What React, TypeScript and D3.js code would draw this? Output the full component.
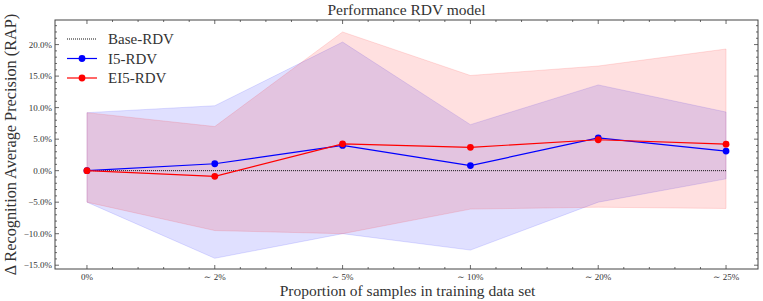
import React, { useEffect, useRef } from 'react'
import * as d3 from 'd3'

// categories along x
const categories = ['0%', '∼ 2%', '∼ 5%', '∼ 10%', '∼ 20%', '∼ 25%']

// mean delta RAP (%)
const baseRdv = [0, 0, 0, 0, 0, 0]
const i5Rdv = [0, 1.1, 4.0, 0.8, 5.2, 3.1]
const ei5Rdv = [0, -0.9, 4.25, 3.7, 4.9, 4.2]

// spread bands (%)
const i5Upper = [9.2, 10.3, 20.4, 7.3, 13.6, 9.3]
const i5Lower = [-5.0, -13.9, -10.0, -12.6, -5.0, -1.3]
const ei5Upper = [9.2, 7.0, 22.0, 15.1, 16.6, 19.3]
const ei5Lower = [-5.0, -9.5, -10.0, -6.1, -5.8, -6.0]

const yTicks = [-15, -10, -5, 0, 5, 10, 15, 20]

const W = 763
const H = 301
const margin = { top: 20, right: 5, bottom: 32, left: 55 }
const font = '"Liberation Serif", "DejaVu Serif", serif'

const App = () => {
    const ref = useRef<SVGSVGElement>(null)

    useEffect(() => {
        const svg = d3.select(ref.current)
        svg.selectAll('*').remove()

        const x = d3.scaleLinear().domain([-0.25, 5.25]).range([margin.left, W - margin.right])
        const y = d3.scaleLinear().domain([-15.6, 23.9]).range([H - margin.bottom, margin.top])
        const idx = categories.map((_, i) => i)

        const area = (lo: number[], hi: number[]) =>
            d3.area<number>().x(i => x(i)).y0(i => y(lo[i])).y1(i => y(hi[i]))(idx) as string
        const line = (v: number[]) => d3.line<number>().x(i => x(i)).y(i => y(v[i]))(idx) as string

        const g = svg.append('g')

        // bands
        g.append('path').attr('d', area(i5Lower, i5Upper))
            .attr('fill', 'rgba(0,0,255,0.12)').attr('stroke', 'rgba(0,0,255,0.12)')
        g.append('path').attr('d', area(ei5Lower, ei5Upper))
            .attr('fill', 'rgba(255,0,0,0.12)').attr('stroke', 'rgba(255,0,0,0.12)')

        // base line
        g.append('path').attr('d', line(baseRdv)).attr('fill', 'none')
            .attr('stroke', '#111').attr('stroke-width', 1).attr('stroke-dasharray', '1,1')

        const series = [
            { v: i5Rdv, c: '#0000ff' },
            { v: ei5Rdv, c: '#ff0000' },
        ]
        series.forEach(s => {
            g.append('path').attr('d', line(s.v)).attr('fill', 'none')
                .attr('stroke', s.c).attr('stroke-width', 1.2)
            g.selectAll(null).data(idx).join('circle')
                .attr('cx', i => x(i)).attr('cy', i => y(s.v[i])).attr('r', 3.4).attr('fill', s.c)
        })

        // frame + ticks
        const axisColor = '#444'
        const x0 = margin.left, x1 = W - margin.right, y0 = margin.top, y1 = H - margin.bottom
        g.append('rect').attr('x', x0).attr('y', y0).attr('width', x1 - x0).attr('height', y1 - y0)
            .attr('fill', 'none').attr('stroke', axisColor).attr('stroke-width', 1)

        const ticks = g.append('g').attr('stroke', axisColor).attr('stroke-width', 0.8)
        const minorX = d3.range(0, 5.01, 0.2).filter(v => Math.abs(v - Math.round(v)) > 0.01)
        idx.forEach(i => {
            ticks.append('line').attr('x1', x(i)).attr('x2', x(i)).attr('y1', y1).attr('y2', y1 - 4)
            ticks.append('line').attr('x1', x(i)).attr('x2', x(i)).attr('y1', y0).attr('y2', y0 + 4)
        })
        minorX.forEach(v => {
            ticks.append('line').attr('x1', x(v)).attr('x2', x(v)).attr('y1', y1).attr('y2', y1 - 2)
            ticks.append('line').attr('x1', x(v)).attr('x2', x(v)).attr('y1', y0).attr('y2', y0 + 2)
        })
        d3.range(-15, 24, 1).forEach(v => {
            const major = v % 5 === 0
            const len = major ? 4 : 2
            ticks.append('line').attr('x1', x0).attr('x2', x0 + len).attr('y1', y(v)).attr('y2', y(v))
            ticks.append('line').attr('x1', x1).attr('x2', x1 - len).attr('y1', y(v)).attr('y2', y(v))
        })

        // tick labels
        const fmt = (v: number) => (v < 0 ? '−' : '') + Math.abs(v).toFixed(1) + '%'
        g.selectAll(null).data(yTicks).join('text')
            .attr('x', x0 - 3).attr('y', v => y(v)).attr('dy', '0.35em')
            .attr('text-anchor', 'end').attr('font-family', font).attr('font-size', 9)
            .attr('fill', '#333').text(v => fmt(v))
        g.selectAll(null).data(idx).join('text')
            .attr('x', i => x(i)).attr('y', y1 + 11)
            .attr('text-anchor', 'middle').attr('font-family', font).attr('font-size', 9)
            .attr('fill', '#333').text(i => categories[i])

        // titles
        g.append('text').attr('x', (x0 + x1) / 2).attr('y', 15).attr('text-anchor', 'middle')
            .attr('font-family', font).attr('font-size', 15.5).attr('fill', '#333')
            .text('Performance RDV model')
        g.append('text').attr('x', (x0 + x1) / 2 + 1).attr('y', 296).attr('text-anchor', 'middle')
            .attr('font-family', font).attr('font-size', 15.5).attr('fill', '#333')
            .text('Proportion of samples in training data set')
        g.append('text').attr('transform', `translate(10,${(y0 + y1) / 2}) rotate(-90)`)
            .attr('text-anchor', 'middle').attr('dy', '0.35em')
            .attr('font-family', font).attr('font-size', 16.3).attr('fill', '#333')
            .text('Δ Recognition Average Precision (RAP)')

        // legend
        const legend = [
            { label: 'Base-RDV', c: '#111', dot: false },
            { label: 'I5-RDV', c: '#0000ff', dot: true },
            { label: 'EI5-RDV', c: '#ff0000', dot: true },
        ]
        legend.forEach((l, k) => {
            const ly = 39 + k * 19.5
            const lg = g.append('g')
            lg.append('line').attr('x1', 67).attr('x2', 97).attr('y1', ly).attr('y2', ly)
                .attr('stroke', l.c).attr('stroke-width', l.dot ? 1.2 : 1)
                .attr('stroke-dasharray', l.dot ? null : '1,1')
            if (l.dot) lg.append('circle').attr('cx', 82).attr('cy', ly).attr('r', 3.4).attr('fill', l.c)
            lg.append('text').attr('x', 108).attr('y', ly).attr('dy', '0.35em')
                .attr('font-family', font).attr('font-size', 15).attr('fill', '#333').text(l.label)
        })
    }, [])

    return <svg ref={ref} width={W} height={H} style={{ position: 'absolute', left: 0, top: 0, background: '#fff' }} />
}

export default App
